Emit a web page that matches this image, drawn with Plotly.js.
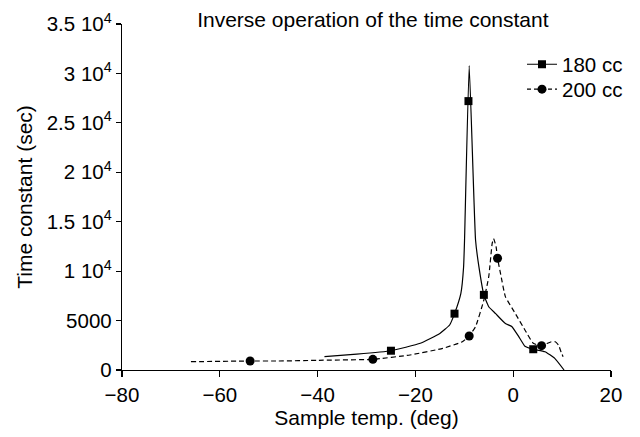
<!DOCTYPE html>
<html>
<head>
<meta charset="utf-8">
<script src="https://cdn.plot.ly/plotly-3.0.1.min.js"></script>
<style>html,body{margin:0;padding:0;background:#fff;}#chart{width:640px;height:437px;}</style>
</head>
<body>
<div id="chart"></div>
<script>
// 180 cc curve (solid)
const curve180X = [-38.6, -32, -25, -19, -15, -13, -12, -10.7, -10.15, -9.95, -9.0, -7.7, -7.0, -6.0, -5.0, -3.6, -1.6, -0.3, 1.1, 2.4, 4.1, 6.5, 8.5, 10.4];
const curve180Y = [1350, 1600, 1950, 2700, 3700, 4550, 5700, 7760, 10400, 13150, 30800, 13150, 10400, 7600, 6400, 5700, 4700, 4400, 3400, 2400, 2100, 1850, 1180, 0];
const marker180X = [-25, -12, -9.15, -6.0, 4.1];
const marker180Y = [1950, 5700, 27200, 7600, 2100];

// 200 cc curve (dashed)
const curve200X = [-65.9, -53.8, -48, -40, -28.7, -21.1, -14.4, -10.4, -9.0, -7.7, -6.0, -5.0, -4.3, -4.0, -3.5, -3.2, -2.6, -1.6, 0.4, 2.4, 4.1, 5.8, 7.8, 8.6, 9.3, 9.8, 10.2];
const curve200Y = [840, 910, 910, 980, 1080, 1520, 2190, 2860, 3440, 4380, 7080, 9440, 12800, 13300, 12470, 11300, 9780, 7420, 5740, 4050, 2700, 2460, 2860, 2860, 2500, 1800, 1350];
const marker200X = [-53.8, -28.7, -9.0, -3.2, 5.8];
const marker200Y = [910, 1080, 3440, 11300, 2460];

const seriesNames = ['180 cc', '200 cc'];
const yTickVals = [0, 5000, 10000, 15000, 20000, 25000, 30000, 35000];
const yTickText = ['0', '5000', '1 10<sup>4</sup>', '1.5 10<sup>4</sup>', '2 10<sup>4</sup>', '2.5 10<sup>4</sup>', '3 10<sup>4</sup>', '3.5 10<sup>4</sup>'];
const xTickVals = [-80, -60, -40, -20, 0, 20];
const xTickText = ['\u221280', '\u221260', '\u221240', '\u221220', '0', '20'];

const black = '#000';
const traces = [
  {x: curve180X, y: curve180Y, mode: 'lines', line: {color: black, width: 1.2, shape: 'spline', smoothing: 0.4}, showlegend: false, hoverinfo: 'skip'},
  {x: marker180X, y: marker180Y, mode: 'markers', marker: {symbol: 'square', size: 8, color: black}, showlegend: false},
  {x: curve200X, y: curve200Y, mode: 'lines', line: {color: black, width: 1.2, dash: '5px,3px', shape: 'spline', smoothing: 0.4}, showlegend: false, hoverinfo: 'skip'},
  {x: marker200X, y: marker200Y, mode: 'markers', marker: {symbol: 'circle', size: 9, color: black}, showlegend: false},
  {x: [null], y: [null], name: seriesNames[0], legend: 'legend', mode: 'lines+markers', line: {color: black, width: 1.2}, marker: {symbol: 'square', size: 8, color: black}},
  {x: [null], y: [null], name: seriesNames[1], legend: 'legend2', mode: 'lines+markers', line: {color: black, width: 1.2, dash: '4px,3px'}, marker: {symbol: 'circle', size: 9, color: black}}
];

const font = {family: '"Liberation Sans", Arial, sans-serif', color: black};
const legendBase = {x: 0.818, xanchor: 'left', yanchor: 'top', bgcolor: 'rgba(0,0,0,0)', font: Object.assign({size: 20.5}, font), tracegroupgap: 0, itemwidth: 30};
const layout = {
  width: 640, height: 437,
  margin: {l: 122, r: 23, t: 24, b: 67},
  paper_bgcolor: '#fff', plot_bgcolor: '#fff',
  font: Object.assign({size: 20.5}, font),
  title: {text: 'Inverse operation of the time constant', font: Object.assign({size: 21}, font), xref: 'paper', x: 0.513, xanchor: 'center', yref: 'container', y: 0.954, yanchor: 'middle'},
  xaxis: {
    range: [-80, 20], tickmode: 'array', tickvals: xTickVals, ticktext: xTickText,
    ticks: 'outside', ticklen: 6, tickwidth: 1.2, tickcolor: black,
    showline: true, linecolor: black, linewidth: 1.2, showgrid: false, zeroline: false,
    tickfont: Object.assign({size: 20.5}, font),
    title: {text: 'Sample temp. (deg)', font: Object.assign({size: 21}, font), standoff: 0}
  },
  yaxis: {
    range: [0, 35000], tickmode: 'array', tickvals: yTickVals, ticktext: yTickText,
    ticks: 'outside', ticklen: 5, tickwidth: 1.2, tickcolor: black,
    showline: true, linecolor: black, linewidth: 1.2, showgrid: false, zeroline: false,
    tickfont: Object.assign({size: 20.5}, font),
    title: {text: 'Time constant (sec)', font: Object.assign({size: 21}, font), standoff: 8}
  },
  legend: Object.assign({y: 0.941}, legendBase),
  legend2: Object.assign({y: 0.869}, legendBase)
};

Plotly.newPlot('chart', traces, layout, {displayModeBar: false, staticPlot: true});
</script>
</body>
</html>
